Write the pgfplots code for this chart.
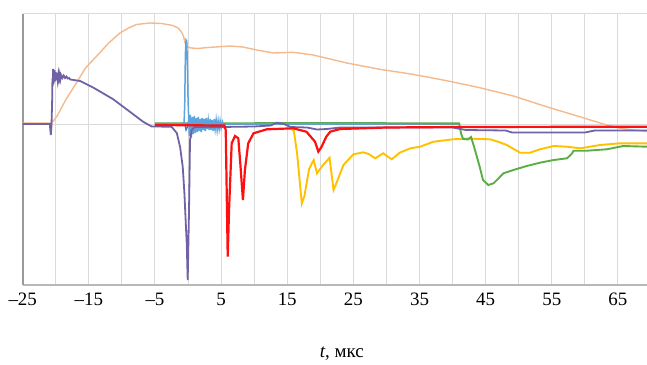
\documentclass[border=0pt]{standalone}
\usepackage{fontspec}
\setmainfont{Liberation Serif}
\usepackage{pgfplots}
\pgfplotsset{compat=1.18}
\definecolor{corange}{HTML}{F4B98C}
\definecolor{cpurple}{HTML}{7162A6}
\definecolor{cred}{HTML}{FF1010}
\definecolor{cyellow}{HTML}{FFC000}
\definecolor{cgreen}{HTML}{5AAE45}
\definecolor{clblue}{HTML}{5BA4DE}
\definecolor{cdblue}{HTML}{3A78C0}
\definecolor{cgrid}{HTML}{DADADA}
\begin{document}
\begin{tikzpicture}[x=1bp,y=1bp]
\begin{axis}[
  at={(0,0)}, anchor=south west,
  scale only axis, width=624.3bp, height=271bp,
  xmin=-25, xmax=69.4, ymin=-161, ymax=110,
  axis x line*=bottom, axis y line*=left,
  x axis line style={draw=black!28, line width=1.2bp, -},
  y axis line style={draw=black!40, line width=1.8bp, -},
  xtick={-25,-15,...,65},
  xticklabels={\textendash25,\textendash15,\textendash5,5,15,25,35,45,55,65},
  minor xtick={-20,-10,...,60},
  ytick={0,110}, yticklabels={},
  xmajorgrids, xminorgrids, ymajorgrids,
  major grid style={draw=cgrid, line width=1bp},
  minor grid style={draw=cgrid, line width=1bp},
  major tick length=0pt, minor tick length=0pt,
  xticklabel style={font=\fontsize{19}{22}\selectfont, anchor=north, inner sep=0pt, yshift=-8bp},
  xlabel={\textit{t}, мкс},
  xlabel style={font=\fontsize{19}{22}\selectfont, at={(axis description cs:0.511,0)}, anchor=center, yshift=-69bp},
  clip=true,
]
% orange
\addplot[corange, line width=1.4bp] coordinates {
(-25,1) (-20.6,1) (-19.8,8) (-18.5,24) (-16.8,42) (-15.5,56) (-13.8,68) (-12,81) (-10.3,91) (-9,96) (-7.8,99.5) (-5.8,101) (-4,100.5) (-2.3,98.5) (-1.5,96) (-1.0,92) (-0.7,88) (-0.4,80) (-0.1,77) (0.5,76) (1.5,75.5) (3,76.5) (6.4,78) (8.3,77) (10.4,74) (12.9,71) (15.9,71.7) (18.9,69) (21.5,65) (24,61) (29,54.7) (34,49.7) (39.1,43.3) (44.1,36.3) (49.2,28) (54.2,17.3) (59.2,7.3) (63.3,-1) (65.5,-4.5) (69.4,-7.5)
};
% yellow
\addplot[cyellow, line width=1.9bp] coordinates {
(15.5,-4) (16.0,-7) (16.5,-30) (17.2,-79.3) (17.6,-72) (18.3,-45) (19.0,-36) (19.5,-49.3) (20.3,-42) (21.4,-33.7) (22.0,-66) (22.5,-58) (23.5,-41) (25.0,-30.3) (26.5,-28.3) (27.3,-30) (28.3,-34.3) (29.5,-29.3) (30.8,-35.3) (32.0,-28.7) (33.6,-24.3) (35.1,-22.7) (37.1,-17.7) (40.1,-15.3) (42,-14.5) (45.7,-15.3) (47,-18) (48.2,-21) (50.2,-28.7) (51.7,-28.7) (53.2,-25.3) (55.3,-22) (57.3,-22.7) (59.3,-24.3) (62.3,-21) (65.3,-19.3) (69.4,-19.3)
};
% dark blue
\addplot[cdblue, line width=1.3bp] coordinates {
(-5,0) (-0.5,0) (-0.3,-6) (-0.1,-3) (0.1,4) (0.3,-4) (0.5,3) (0.7,-3) (0.9,4) (1.1,-2) (1.3,3) (1.5,-3) (1.7,2) (1.9,-2) (2.1,3) (2.3,-2) (2.5,2) (2.8,-2) (3.1,2) (3.4,-2) (3.7,2) (4.0,-1) (4.5,1) (5,0) (20,0) (40,0) (41,0)
};
% green
\addplot[cgreen, line width=1.9bp] coordinates {
(-5,0.8) (10,0.8) (20,1) (30,0.8) (41,0.6) (41.3,-10) (41.6,-15) (42.3,-15.5) (42.8,-13) (43.3,-24) (44.1,-42.7) (44.6,-56) (45.4,-61) (46.2,-59.3) (47.7,-49.3) (49.2,-46) (51.2,-42) (53.2,-38.7) (55.3,-36) (57.3,-34.3) (58.0,-30) (58.3,-26.7) (60.3,-26.7) (63.3,-25.3) (65.8,-22) (69.4,-22.7)
};
% light blue
\addplot[clblue, line width=1.5bp] coordinates {
(-5,0.5) (-1,0.5) (-0.6,1) (-0.5,20) (-0.4,70) (-0.3,84) (-0.2,83) (-0.1,60) (0,25) (0.1,5) (0.2,-12) (0.35,9) (0.5,-14) (0.65,7) (0.8,-10) (0.95,8) (1.1,-9) (1.25,6) (1.4,-8) (1.55,7) (1.7,-7) (1.85,5) (2.0,-8) (2.15,6) (2.3,-6) (2.45,5) (2.6,-7) (2.75,6) (2.9,-5) (3.05,4) (3.2,-6) (3.35,5) (3.5,-6) (3.65,4) (3.8,-7) (3.95,5) (4.1,-5) (4.25,4) (4.4,-6) (4.55,3) (4.7,-5) (4.85,3) (5.0,-4) (5.2,2) (5.4,-3) (5.7,0) (10,0.3) (30,0.3)
};
% purple
\addplot[cpurple, line width=1.8bp] coordinates {
(-25,0) (-20.9,0) (-20.75,-11) (-20.65,-2) (-20.55,22) (-20.5,46) (-20.45,38) (-20.4,55) (-20.35,40) (-20.3,53) (-20.25,42) (-20.2,54) (-20.1,43) (-20.0,52) (-19.9,44) (-19.8,51) (-19.7,44) (-19.6,50) (-19.5,45) (-19.4,49.5) (-19.3,45) (-19.2,49) (-19.0,46) (-18.8,48.5) (-18.6,46) (-18.4,47.5) (-18.2,45.5) (-18.0,46) (-17.8,44.5) (-16.3,43) (-14.4,36.7) (-11.3,24.7) (-8.8,12.3) (-6.8,2.3) (-5.5,-2.5) (-2.5,-2.7) (-1.7,-9) (-1.2,-23) (-0.8,-43) (-0.55,-69) (-0.3,-105) (-0.2,-119) (-0.05,-156) (0.15,-86) (0.3,-16) (0.55,-6) (1,-3) (5,-3) (10,-2.5) (12.5,-1.5) (13.4,1.3) (14.5,0) (15.5,-3) (18,-3.5) (19.5,-5.5) (21,-5) (23,-3.5) (40,-3.5) (42,-6) (48,-6.5) (49,-8.5) (60,-8.5) (61.5,-6.5) (69.4,-6.5)
};
% red
\addplot[cred, line width=2.2bp] coordinates {
(-5,-1) (5.5,-1.5) (5.7,-6) (6.0,-132.7) (6.2,-86) (6.6,-19.3) (7.1,-12) (7.6,-14.3) (7.9,-39.3) (8.3,-76) (8.6,-46) (9.1,-19.3) (9.9,-9.3) (11.9,-5.3) (15.9,-4.3) (17.9,-7.7) (19.2,-17.7) (19.7,-27.7) (20.2,-22.7) (20.9,-12.7) (21.5,-7.7) (23,-5) (30,-3.5) (40,-3) (69.4,-2.7)
};
\end{axis}
\pgfresetboundingbox
\path (-22.7,-79) rectangle (624.3,285);
\end{tikzpicture}
\end{document}
